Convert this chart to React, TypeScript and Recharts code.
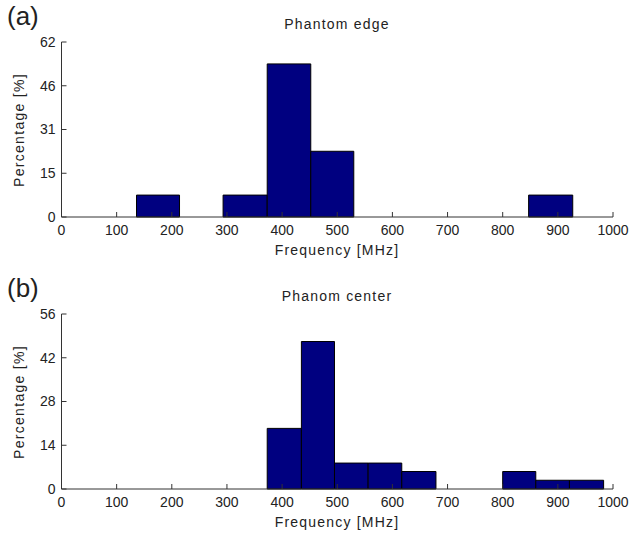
import { ComposedChart, ReferenceArea, Scatter, XAxis, YAxis } from 'recharts';

const xTicks = [0, 100, 200, 300, 400, 500, 600, 700, 800, 900, 1000];

// Phantom edge histogram (bin edges in MHz, height in %)
const edgeBinStart = [136, 293, 373, 452, 847];
const edgeBinEnd = [214, 373, 452, 530, 927];
const edgePct = [7.7, 7.7, 53.8, 23.1, 7.7];
const edgeYTicks = [0, 15.375, 30.75, 46.125, 61.5];

// Phanom center histogram
const centerBinStart = [373, 435, 495, 556, 617, 800, 860, 921];
const centerBinEnd = [435, 495, 556, 617, 679, 860, 921, 983];
const centerPct = [19.4, 47.2, 8.3, 8.3, 5.6, 5.6, 2.8, 2.8];
const centerYTicks = [0, 14, 28, 42, 56];

const FONT = '"Liberation Sans", Arial, sans-serif';
const TEXT = '#222';
const AXIS = '#333';

type HistProps = {
  top: number;
  height: number;
  plotTop: number;
  start: number[];
  end: number[];
  pct: number[];
  yTicks: number[];
  panel: string;
  title: string;
};

function Histogram({ top, height, plotTop, start, end, pct, yTicks, panel, title }: HistProps) {
  const bins = start.map((s, i) => ({ x0: s, x1: end[i], mid: (s + end[i]) / 2, pct: pct[i] }));
  const plotBottom = plotTop + 175;
  const yMax = yTicks[yTicks.length - 1];
  const tickStyle = { fontSize: 14, fill: TEXT, fontFamily: FONT };

  return (
    <div style={{ position: 'absolute', left: 0, top, width: 635, height }}>
      <ComposedChart
        width={635}
        height={height}
        data={bins}
        margin={{ top: plotTop, right: 22, left: 11.5, bottom: height - plotBottom - 30 }}
      >
        <XAxis
          xAxisId={0}
          dataKey="mid"
          type="number"
          domain={[0, 1000]}
          ticks={xTicks}
          height={30}
          stroke={AXIS}
          tickSize={-5}
          tickMargin={13}
          tick={tickStyle}
          interval={0}
        />
        <XAxis
          xAxisId="top"
          orientation="top"
          type="number"
          domain={[0, 1000]}
          ticks={xTicks}
          height={0}
          stroke={AXIS}
          tickSize={-5}
          tick={false}
        />
        <YAxis
          yAxisId={0}
          type="number"
          domain={[0, yMax]}
          ticks={yTicks}
          width={50}
          stroke={AXIS}
          tickSize={-5}
          tickMargin={11}
          tick={tickStyle}
          tickFormatter={(v: number) => String(Math.round(v))}
          interval={0}
        />
        <YAxis
          yAxisId="right"
          orientation="right"
          type="number"
          domain={[0, yMax]}
          ticks={yTicks}
          width={0}
          stroke={AXIS}
          tickSize={-5}
          tick={false}
        />
        {bins.map((b, i) => (
          <ReferenceArea
            key={i}
            x1={b.x0}
            x2={b.x1}
            y1={0}
            y2={b.pct}
            fill="#000080"
            fillOpacity={1}
            stroke="#000"
            strokeWidth={1}
          />
        ))}
        <Scatter dataKey="pct" isAnimationActive={false} shape={() => <g />} />
      </ComposedChart>
      <div style={{ position: 'absolute', left: 7, top: plotTop - 41, fontFamily: FONT, fontSize: 26, color: TEXT, lineHeight: '30px' }}>
        {panel}
      </div>
      <div style={{ position: 'absolute', left: 217, width: 240, textAlign: 'center', top: plotTop - 26, fontFamily: FONT, fontSize: 14, color: TEXT, lineHeight: '17px', letterSpacing: 1.2 }}>
        {title}
      </div>
      <div style={{ position: 'absolute', left: 217, width: 240, textAlign: 'center', top: plotBottom + 25, fontFamily: FONT, fontSize: 14, color: TEXT, lineHeight: '17px', letterSpacing: 1.2 }}>
        Frequency [MHz]
      </div>
      <div
        style={{
          position: 'absolute',
          left: 19 - 80,
          width: 160,
          top: plotTop + 87.5 - 9,
          textAlign: 'center',
          fontFamily: FONT,
          fontSize: 14,
          color: TEXT,
          lineHeight: '18px',
          letterSpacing: 1.3,
          transform: 'rotate(-90deg)',
        }}
      >
        Percentage [%]
      </div>
    </div>
  );
}

export default function App() {
  return (
    <div style={{ position: 'absolute', left: 0, top: 0, width: 635, height: 536, background: '#fff' }}>
      <Histogram
        top={0}
        height={260}
        plotTop={42}
        start={edgeBinStart}
        end={edgeBinEnd}
        pct={edgePct}
        yTicks={edgeYTicks}
        panel="(a)"
        title="Phantom edge"
      />
      <Histogram
        top={260}
        height={276}
        plotTop={54}
        start={centerBinStart}
        end={centerBinEnd}
        pct={centerPct}
        yTicks={centerYTicks}
        panel="(b)"
        title="Phanom center"
      />
    </div>
  );
}
